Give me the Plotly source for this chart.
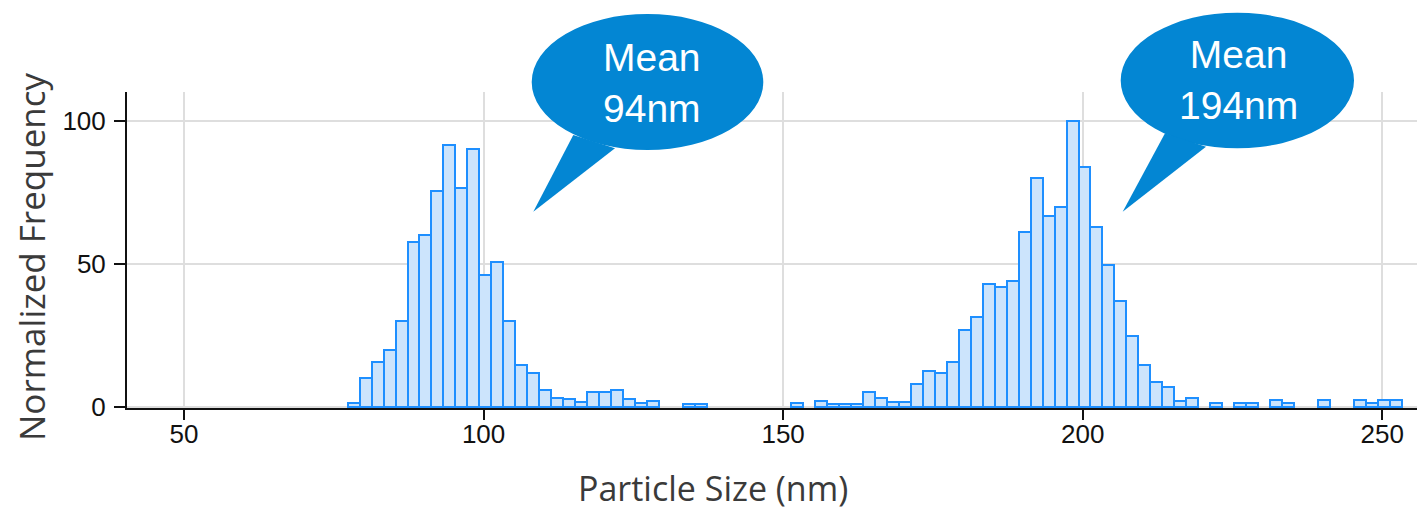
import plotly.graph_objects as go

# ---- data ----
bin_left = 77.3      # left edge of first size bin (nm)
bin_width = 2.0      # bin width (nm)
frequency = [
    1.2, 10, 15.5, 20, 30, 57.5, 60, 75.5, 91.5, 76.5,
    90, 46, 50.5, 30, 14.5, 11.7, 5.8, 2.9, 2.6, 1.8,
    5, 5, 5.8, 2.6, 1.2, 2.1, 0, 0, 1, 1,
    0, 0, 0, 0, 0, 0, 0, 1.2, 0, 2.1,
    1, 1, 1, 5, 2.9, 1.8, 1.8, 7.9, 12.6, 11.7,
    15.5, 26.8, 31.5, 43, 42, 44, 61, 80, 66.7, 69.8,
    100, 84, 63, 49.7, 37, 24.6, 14.5, 8.8, 6.8, 2.1,
    2.9, 0, 1.2, 0, 1.2, 1.2, 0, 2.3, 1.3, 0,
    0, 2.3, 0, 0, 2.3, 1.3, 2.3, 2.3,
]
x_ticks = [50, 100, 150, 200, 250]
y_ticks = [0, 50, 100]
callouts = ["Mean<br>94nm", "Mean<br>194nm"]
x_title = "Particle Size (nm)"
y_title = "Normalized Frequency"

sizes = [bin_left + bin_width * (i + 0.5) for i in range(len(frequency))]
heights = [v if v > 0 else None for v in frequency]

# ---- layout geometry (pixels) ----
W, H = 1417, 512
L, R, T, B = 127, 0, 92, 104
PW, PH = W - L - R, H - T - B


def px(x):
    return (x - L) / PW


def py(y):
    return (H - B - y) / PH


tick_font = dict(family="Liberation Sans Narrow, Arial Narrow, Liberation Sans, Arial, sans-serif",
                 size=26, color="#111111")
title_font = dict(family="Open Sans, Noto Sans, sans-serif", size=34, color="#3a3a3a")

fig = go.Figure(go.Bar(
    x=sizes, y=heights, width=bin_width,
    marker=dict(color="rgba(204,228,252,1)", line=dict(color="#1E8FFF", width=2)),
    hoverinfo="x+y",
))

blue = "#0386D3"
shapes = []
annotations = []
# callout 1
shapes.append(dict(type="circle", xref="paper", yref="paper",
                   x0=px(531.7), x1=px(763.3), y0=py(150), y1=py(14),
                   fillcolor=blue, line=dict(width=0), layer="above"))
shapes.append(dict(type="path", xref="paper", yref="paper",
                   path=f"M {px(573.3)} {py(135)} L {px(615)} {py(148.3)} L {px(533.3)} {py(211.7)} Z",
                   fillcolor=blue, line=dict(width=0), layer="above"))
annotations.append(dict(xref="paper", yref="paper", x=px(651.7), y=py(82.5),
                        text=callouts[0], showarrow=False, xanchor="center", yanchor="middle",
                        font=dict(family="Liberation Sans, Arial, sans-serif", size=39, color="white")))
# callout 2
shapes.append(dict(type="circle", xref="paper", yref="paper",
                   x0=px(1120.7), x1=px(1354), y0=py(148.3), y1=py(12.7),
                   fillcolor=blue, line=dict(width=0), layer="above"))
shapes.append(dict(type="path", xref="paper", yref="paper",
                   path=f"M {px(1165)} {py(133.3)} L {px(1206)} {py(146.7)} L {px(1122.7)} {py(211.7)} Z",
                   fillcolor=blue, line=dict(width=0), layer="above"))
annotations.append(dict(xref="paper", yref="paper", x=px(1238.3), y=py(80),
                        text=callouts[1], showarrow=False, xanchor="center", yanchor="middle",
                        font=dict(family="Liberation Sans, Arial, sans-serif", size=39, color="white")))
# axis titles (placed as annotations to match the reference's offset positions)
annotations.append(dict(xref="paper", yref="paper", x=px(713), y=py(511.5),
                        text=x_title, showarrow=False, xanchor="center", yanchor="bottom",
                        borderpad=0, font=title_font))
annotations.append(dict(xref="paper", yref="paper", x=px(31), y=py(257),
                        text=y_title, showarrow=False, xanchor="center", yanchor="middle",
                        textangle=-90, font=dict(title_font, size=35)))

fig.update_layout(
    width=W, height=H,
    margin=dict(l=L, r=R, t=T, b=B, pad=0, autoexpand=False),
    paper_bgcolor="white", plot_bgcolor="white",
    showlegend=False,
    bargap=0,
    shapes=shapes,
    annotations=annotations,
    xaxis=dict(
        range=[40.48, 255.8],
        tickvals=x_ticks, ticktext=[str(v) for v in x_ticks],
        ticks="outside", ticklen=10, tickwidth=2, tickcolor="#111",
        showline=True, linecolor="#111", linewidth=2,
        showgrid=True, gridcolor="#dedede", gridwidth=2,
        zeroline=False, tickfont=tick_font, automargin=False, ticklabelstandoff=-8,
    ),
    yaxis=dict(
        range=[-0.46, 110.1],
        tickvals=y_ticks, ticktext=[str(v) for v in y_ticks],
        ticks="outside", ticklen=11, tickwidth=2, tickcolor="#111",
        showline=True, linecolor="#111", linewidth=2,
        showgrid=True, gridcolor="#dedede", gridwidth=2,
        zeroline=False, tickfont=tick_font, ticklabelstandoff=3, automargin=False,
    ),
)

fig.write_html("out.html", config={"displayModeBar": False},
               post_script="document.body.style.margin='0';document.body.style.overflow='hidden';")
